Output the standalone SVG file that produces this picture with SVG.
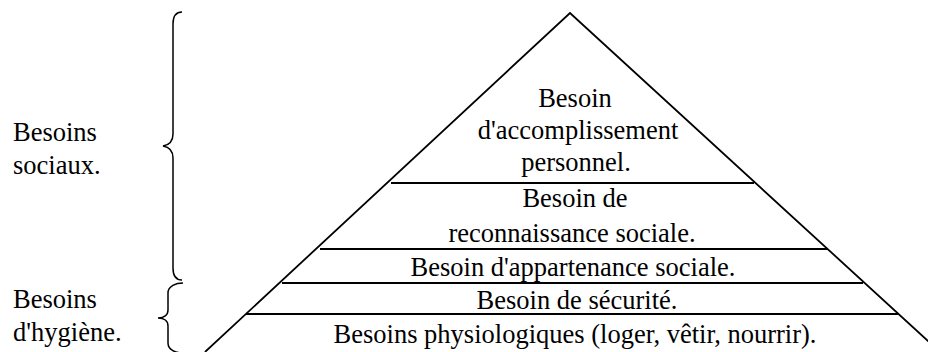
<svg xmlns="http://www.w3.org/2000/svg" width="928" height="352" viewBox="0 0 928 352">
  <style>
    .ln { stroke: #000; stroke-width: 1.8; fill: none; }
    .br { stroke: #000; stroke-width: 1.5; fill: none; }
    .c { text-anchor: middle; }
  </style>
  <rect width="928" height="352" fill="#fff"/>

  <!-- pyramid outline and level dividers -->
  <g id="connectors">
    <polyline class="ln" points="205,352 570,13 940,352"/>
    <line class="ln" x1="391" y1="183" x2="754" y2="183"/>
    <line class="ln" x1="320" y1="249" x2="828" y2="249"/>
    <line class="ln" x1="282" y1="283" x2="863" y2="283"/>
    <line class="ln" x1="246" y1="314" x2="898" y2="314"/>
    <!-- grouping braces -->
    <path class="br" d="M182,12 C176,12 173,16 173,24 L173,134 C173,141 169,145 163,146 C169,147 173,151 173,158 L173,268 C173,276 176,280 182,280"/>
    <path class="br" d="M183,283 C176,283 168,286 168,293 L168,310 C168,315 164,318 158,318 C164,318 168,321 168,326 L168,343 C168,350 176,353 183,353"/>
  </g>

  <g font-family="Liberation Serif" font-size="26.5" fill="#000">
    <g id="level-accomplissement">
      <text class="c" x="575" y="107">Besoin</text>
      <text class="c" x="578" y="139">d'accomplissement</text>
      <text class="c" x="576" y="171">personnel.</text>
    </g>
    <g id="level-reconnaissance">
      <text class="c" x="575" y="207">Besoin de</text>
      <text class="c" x="572" y="242">reconnaissance sociale.</text>
    </g>
    <g id="level-appartenance">
      <text class="c" x="573" y="276">Besoin d'appartenance sociale.</text>
    </g>
    <g id="level-securite">
      <text class="c" x="577" y="309">Besoin de sécurité.</text>
    </g>
    <g id="level-physiologique">
      <text class="c" x="575" y="343">Besoins physiologiques (loger, vêtir, nourrir).</text>
    </g>

    <g id="label-sociaux">
      <text x="13" y="141">Besoins</text>
      <text x="13" y="174">sociaux.</text>
    </g>
    <g id="label-hygiene">
      <text x="13" y="308">Besoins</text>
      <text x="13" y="341">d'hygiène.</text>
    </g>
  </g>
</svg>
